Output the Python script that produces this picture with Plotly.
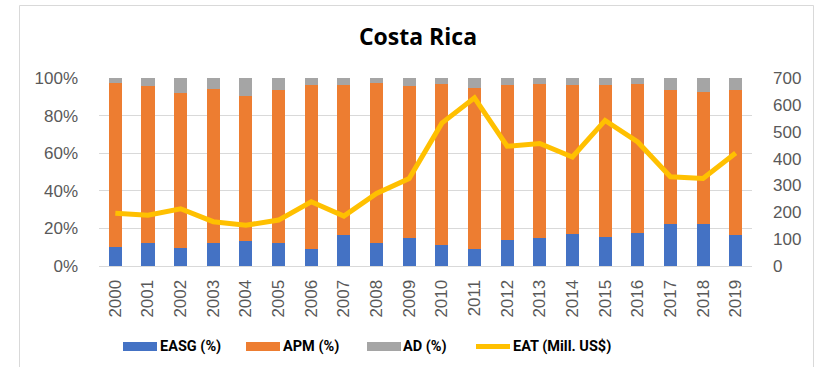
import plotly.graph_objects as go

# Costa Rica: composition of employment (shares) and EAT (million US$)
years = [str(y) for y in range(2000, 2020)]
easg = [10.3, 12.0, 9.7, 12.4, 13.3, 12.0, 8.8, 16.3, 12.4, 15.0,
        11.0, 8.8, 13.6, 15.0, 16.8, 15.6, 17.3, 22.1, 22.1, 16.3]
apm = [87.0, 83.5, 82.3, 81.5, 77.1, 81.7, 87.6, 79.9, 84.9, 80.8,
       85.7, 86.0, 82.6, 81.7, 79.4, 80.8, 79.6, 71.6, 70.6, 77.4]
ad = [2.7, 4.5, 8.0, 6.1, 9.6, 6.3, 3.6, 3.8, 2.7, 4.2,
      3.3, 5.2, 3.8, 3.3, 3.8, 3.6, 3.1, 6.3, 7.3, 6.3]
eat = [196, 189, 213, 165, 152, 171, 239, 186, 270, 326,
       532, 626, 446, 456, 406, 542, 462, 332, 326, 421]

names = ["EASG (%)", "APM (%)", "AD (%)", "EAT (Mill. US$)"]
colors = ["#4472C4", "#ED7D31", "#A5A5A5", "#FFC000"]

W, H = 821, 367
L, R, T, B = 99, 69, 78, 101
pw, ph = W - L - R, H - T - B


def px_x(p):
    return (p - L) / pw


def px_y(p):
    return (H - B - p) / ph


fig = go.Figure()
for vals, name, col in zip([easg, apm, ad], names[:3], colors[:3]):
    fig.add_trace(go.Bar(
        x=years, y=[v / 100 for v in vals], name=name,
        marker=dict(color=col, line=dict(width=0)), width=0.4,
        showlegend=False,
    ))
fig.add_trace(go.Scatter(
    x=years, y=eat, name=names[3], yaxis="y2", mode="lines",
    line=dict(color=colors[3], width=5), showlegend=False,
))

tick_font = dict(family="Liberation Sans, Arial", size=17, color="#595959")

# Outer chart frame
shapes = [dict(type="rect", xref="paper", yref="paper",
               x0=px_x(19.5), x1=px_x(813.5), y0=px_y(5.5), y1=px_y(380),
               line=dict(color="#D9D9D9", width=1), fillcolor="rgba(0,0,0,0)",
               layer="below")]

# Legend drawn as swatches + labels
legend_y = 346.5
swatch_x = [123, 246, 367, 476]
text_x = [158, 281, 401, 511]
annotations = []
for i, (name, col) in enumerate(zip(names, colors)):
    if i < 3:
        shapes.append(dict(type="rect", xref="paper", yref="paper",
                           x0=px_x(swatch_x[i]), x1=px_x(swatch_x[i] + 34),
                           y0=px_y(legend_y - 4.5), y1=px_y(legend_y + 4.5),
                           fillcolor=col, line=dict(width=0)))
    else:
        shapes.append(dict(type="line", xref="paper", yref="paper",
                           x0=px_x(swatch_x[i]), x1=px_x(swatch_x[i] + 34),
                           y0=px_y(legend_y), y1=px_y(legend_y),
                           line=dict(color=col, width=5)))
    annotations.append(dict(xref="paper", yref="paper", x=px_x(text_x[i]),
                            y=px_y(legend_y), xanchor="left", yanchor="middle",
                            text=f"<b>{name}</b>", showarrow=False,
                            font=dict(family="Roboto", size=14.5, color="#000000")))

fig.update_layout(
    width=W, height=H,
    margin=dict(l=L, r=R, t=T, b=B),
    paper_bgcolor="white", plot_bgcolor="white",
    barmode="stack", bargap=0.6,
    title=dict(text="<b>Costa Rica</b>", xref="container", x=418 / W,
               xanchor="center", y=1 - 37 / H, yanchor="middle",
               font=dict(family="Open Sans", size=23, color="#000000")),
    xaxis=dict(type="category", tickangle=-90, tickfont=tick_font,
               showgrid=False, showline=True, linecolor="#D9D9D9", linewidth=1,
               ticks="", ticklabelstandoff=6),
    yaxis=dict(range=[0, 1], dtick=0.2, tickformat=".0%", tickfont=tick_font,
               showgrid=True, gridcolor="#D9D9D9", gridwidth=1,
               zeroline=False, showline=False, ticks="", ticklabelstandoff=20),
    yaxis2=dict(range=[0, 700], dtick=100, overlaying="y", side="right",
                tickfont=tick_font, showgrid=False, zeroline=False,
                showline=False, ticks="", ticklabelstandoff=20),
    shapes=shapes,
    annotations=annotations,
)

fig.write_html("out.html")
